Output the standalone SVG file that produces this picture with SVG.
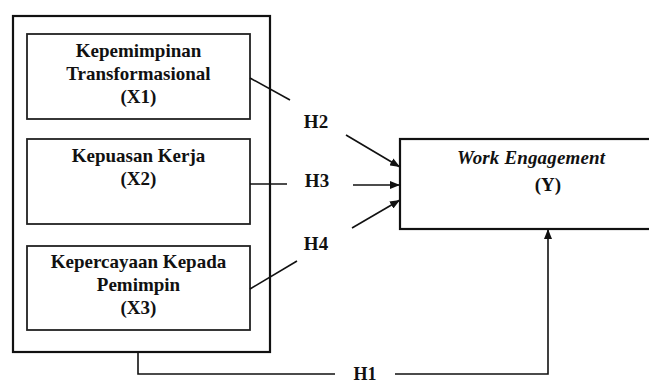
<svg xmlns="http://www.w3.org/2000/svg" width="649" height="385" viewBox="0 0 649 385">
<defs>
<style>
.box{fill:#fff;stroke:#222;stroke-width:1.8}
.outer{fill:#fff;stroke:#111;stroke-width:2.2}
.t{font-family:"Liberation Serif","Times New Roman",serif;font-weight:bold;font-size:19px;fill:#111;text-anchor:middle}
.ti{font-style:italic}
.c{fill:none;stroke:#111;stroke-width:1.6}
</style>
<marker id="ah" viewBox="0 0 10 8" refX="10" refY="4" markerWidth="10" markerHeight="8" markerUnits="userSpaceOnUse" orient="auto">
<path d="M0,0 L10,4 L0,8 Z" fill="#111"/>
</marker>
</defs>
<rect width="649" height="385" fill="#fff"/>
<g id="group-x">
<rect class="outer" x="13" y="16" width="257" height="336"/>
</g>
<g id="x1">
<rect class="box" x="27" y="34" width="223" height="85"/>
<text class="t" x="138.5" y="57">Kepemimpinan</text>
<text class="t" x="138.5" y="80">Transformasional</text>
<text class="t" x="138.5" y="103">(X1)</text>
</g>
<g id="x2">
<rect class="box" x="27" y="139" width="223" height="85"/>
<text class="t" x="138.5" y="162">Kepuasan Kerja</text>
<text class="t" x="138.5" y="185">(X2)</text>
</g>
<g id="x3">
<rect class="box" x="27" y="246" width="223" height="84"/>
<text class="t" x="138.5" y="268">Kepercayaan Kepada</text>
<text class="t" x="138.5" y="291">Pemimpin</text>
<text class="t" x="138.5" y="314">(X3)</text>
</g>
<g id="y">
<rect class="outer" x="400" y="139" width="260" height="90"/>
<text class="t ti" x="531" y="164" textLength="148" lengthAdjust="spacing">Work Engagement</text>
<text class="t" x="548" y="191">(Y)</text>
</g>
<g id="connectors">
<path class="c" d="M250,78 L290,100"/>
<path class="c" d="M346,135 L400,167" marker-end="url(#ah)"/>
<path class="c" d="M250,184 L287,184"/>
<path class="c" d="M353,185 L400,185" marker-end="url(#ah)"/>
<path class="c" d="M250,289 L297,261"/>
<path class="c" d="M352,228 L400,200" marker-end="url(#ah)"/>
<path class="c" d="M138,352 L138,374 L335,374"/>
<path class="c" d="M395,374 L548,374 L548,229" marker-end="url(#ah)"/>
<text class="t" x="316" y="128">H2</text>
<text class="t" x="317" y="187">H3</text>
<text class="t" x="316" y="250">H4</text>
<text class="t" x="365" y="380" style="font-size:18px">H1</text>
</g>
</svg>
